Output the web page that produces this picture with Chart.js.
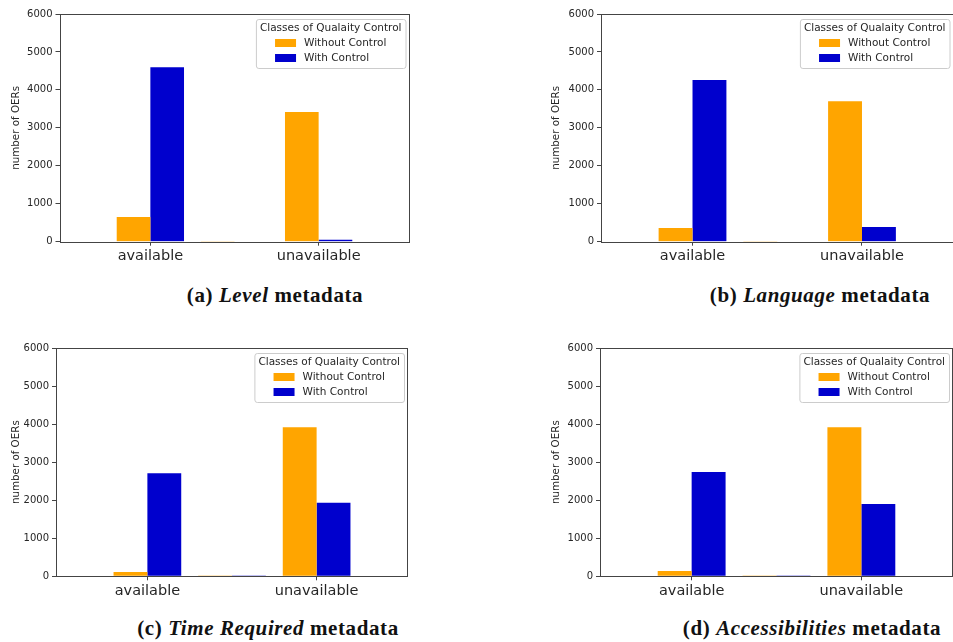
<!DOCTYPE html>
<html>
<head>
<meta charset="utf-8">
<script src="https://cdn.jsdelivr.net/npm/chart.js@4.4.1/dist/chart.umd.min.js"></script>
<style>
  html, body { margin: 0; padding: 0; background: #fff; overflow: hidden; }
  body { width: 953px; height: 642px; position: relative; }
  .panel { position: absolute; }
  .caption {
    position: absolute; width: 420px; text-align: center;
    font-family: "Liberation Serif", "DejaVu Serif", serif; font-weight: bold;
    font-size: 21px; letter-spacing: 0.6px; line-height: 22px; color: #111; white-space: nowrap;
  }
</style>
</head>
<body>
<div class="panel" style="left:0;top:0"><canvas id="chartA" width="420" height="272"></canvas></div>
<div class="panel" style="left:540px;top:0"><canvas id="chartB" width="414" height="272"></canvas></div>
<div class="panel" style="left:0;top:334px"><canvas id="chartC" width="420" height="272"></canvas></div>
<div class="panel" style="left:540px;top:334px"><canvas id="chartD" width="414" height="272"></canvas></div>

<div class="caption" style="left:65px;top:284px">(a) <i>Level</i> metadata</div>
<div class="caption" style="left:610px;top:284px">(b) <i>Language</i> metadata</div>
<div class="caption" style="left:58px;top:617px">(c) <i>Time Required</i> metadata</div>
<div class="caption" style="left:602px;top:617px">(d) <i>Accessibilities</i> metadata</div>

<script>
// categories (the middle group has no tick label in the original)
var categories = ['available', '', 'unavailable'];
var seriesNames = ['Without Control', 'With Control'];
var legendTitle = 'Classes of Qualaity Control';

var levelWithout = [650, 20, 3420];
var levelWith = [4600, 15, 50];
var languageWithout = [360, 20, 3700];
var languageWith = [4260, 15, 390];
var timeWithout = [110, 5, 3920];
var timeWith = [2710, 3, 1930];
var accessWithout = [140, 5, 3920];
var accessWith = [2740, 3, 1900];

var yMin = 0, yMax = 6000, yStep = 1000;

var orange = '#ffa500';
var blue = '#0000cd';
var spine = '#444444';
var textColor = '#262626';
var sans = "'DejaVu Sans', sans-serif";

// draws the axes frame and the matplotlib-style legend box
var framePlugin = {
    id: 'frame',
    afterDraw: function(chart) {
        var ctx = chart.ctx;
        var a = chart.chartArea;
        ctx.save();
        ctx.strokeStyle = spine;
        ctx.lineWidth = 1;
        ctx.strokeRect(Math.round(a.left) + 0.5, Math.round(a.top) + 0.5,
            Math.round(a.right - a.left) - 1, Math.round(a.bottom - a.top));

        // legend
        ctx.font = '10.5px ' + sans;
        var titleW = ctx.measureText(legendTitle).width;
        var textW = 0;
        chart.data.datasets.forEach(function(ds) {
            textW = Math.max(textW, ctx.measureText(ds.label).width);
        });
        var boxW = Math.max(titleW, textW + 29) + 8;
        var boxH = 49;
        var bx = a.right - 4 - boxW;
        var by = a.top + 5;
        ctx.fillStyle = 'rgba(255,255,255,0.85)';
        ctx.strokeStyle = '#cccccc';
        ctx.beginPath();
        ctx.roundRect(bx + 0.5, by + 0.5, boxW, boxH, 2.5);
        ctx.fill();
        ctx.stroke();

        ctx.fillStyle = textColor;
        ctx.textBaseline = 'middle';
        ctx.textAlign = 'center';
        ctx.fillText(legendTitle, bx + boxW / 2, by + 9);

        var itemX = bx + boxW / 2 - (textW + 29) / 2;
        ctx.textAlign = 'left';
        chart.data.datasets.forEach(function(ds, i) {
            var cy = by + 24 + i * 15;
            ctx.fillStyle = ds.backgroundColor;
            ctx.fillRect(itemX, cy - 4, 21, 8);
            ctx.fillStyle = textColor;
            ctx.fillText(ds.label, itemX + 29, cy);
        });
        ctx.restore();
    }
};

function makeChart(id, without, withCtl, plotLeft, plotTop, plotRight, plotBottom, canvasH) {
    var canvas = document.getElementById(id);
    var w = canvas.width;
    var padLeft = 10;
    var toPoints = function(values) {
        return values.map(function(v, i) { return { x: i, y: v }; });
    };
    return new Chart(canvas, {
        type: 'bar',
        data: {
            datasets: [
                { label: seriesNames[0], data: toPoints(without), backgroundColor: orange },
                { label: seriesNames[1], data: toPoints(withCtl), backgroundColor: blue }
            ]
        },
        options: {
            responsive: false,
            animation: false,
            categoryPercentage: 0.8,
            barPercentage: 1.0,
            layout: {
                padding: { left: padLeft, top: plotTop, right: w - plotRight, bottom: 0 }
            },
            plugins: {
                legend: { display: false },
                tooltip: { enabled: false }
            },
            scales: {
                x: {
                    type: 'linear',
                    offset: false,
                    min: -1.08,
                    max: 3.08,
                    afterBuildTicks: function(scale) {
                        scale.ticks = categories
                            .map(function(c, i) { return { value: i }; })
                            .filter(function(t) { return categories[t.value] !== ''; });
                    },
                    afterFit: function(scale) { scale.height = canvasH - plotBottom; },
                    border: { display: false },
                    grid: {
                        offset: false,
                        drawOnChartArea: false,
                        tickLength: 4,
                        tickColor: spine
                    },
                    ticks: {
                        autoSkip: false,
                        maxRotation: 0,
                        padding: 2,
                        color: textColor,
                        font: { family: sans, size: 14.5 },
                        callback: function(v) { return categories[v]; }
                    }
                },
                y: {
                    min: yMin,
                    max: yMax,
                    afterFit: function(scale) { scale.width = plotLeft - padLeft; },
                    border: { display: false },
                    grid: {
                        drawOnChartArea: false,
                        tickLength: 4,
                        tickColor: spine
                    },
                    ticks: {
                        stepSize: yStep,
                        padding: 3,
                        color: textColor,
                        font: { family: sans, size: 10 },
                        callback: function(v) { return String(v); }
                    },
                    title: {
                        display: true,
                        text: 'number of OERs',
                        color: textColor,
                        padding: { top: 0, bottom: 0 },
                        font: { family: sans, size: 10.3 }
                    }
                }
            }
        },
        plugins: [framePlugin]
    });
}

makeChart('chartA', levelWithout, levelWith, 59.5, 14, 409.5, 241.7, 272);
makeChart('chartB', languageWithout, languageWith, 61, 14, 413.5, 241.7, 272);
makeChart('chartC', timeWithout, timeWith, 56, 14, 408, 242.3, 272);
makeChart('chartD', accessWithout, accessWith, 60, 14, 413, 242.3, 272);
</script>
</body>
</html>
